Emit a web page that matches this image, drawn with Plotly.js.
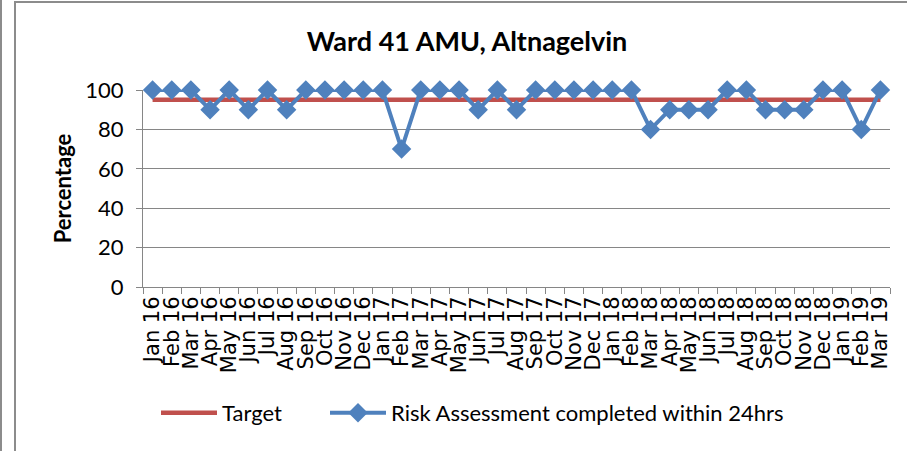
<!DOCTYPE html>
<html>
<head>
<meta charset="utf-8">
<script src="https://cdn.plot.ly/plotly-3.0.1.min.js"></script>
<style>
html,body{margin:0;padding:0;background:#fff;}
#wrap{position:relative;width:907px;height:451px;overflow:hidden;}
#chart{position:absolute;left:0;top:0;width:907px;height:451px;}
#b1{position:absolute;left:0;top:0;width:2px;height:451px;background:#8c8c8c;}
#b2{position:absolute;left:14px;top:1px;width:893px;height:451px;border-left:2px solid #8c8c8c;border-top:2px solid #8c8c8c;box-sizing:border-box;}
</style>
</head>
<body>
<div id="wrap">
<div id="chart"></div>
<div id="b1"></div>
<div id="b2"></div>
</div>
<script>
const months = ["Jan 16","Feb 16","Mar 16","Apr 16","May 16","Jun 16","Jul 16","Aug 16","Sep 16","Oct 16","Nov 16","Dec 16",
"Jan 17","Feb 17","Mar 17","Apr 17","May 17","Jun 17","Jul 17","Aug 17","Sep 17","Oct 17","Nov 17","Dec 17",
"Jan 18","Feb 18","Mar 18","Apr 18","May 18","Jun 18","Jul 18","Aug 18","Sep 18","Oct 18","Nov 18","Dec 18",
"Jan 19","Feb 19","Mar 19"];
const riskAssessment = [100,100,100,90,100,90,100,90,100,100,100,100,
100,70,100,100,100,90,100,90,100,100,100,100,
100,100,80,90,90,90,100,100,90,90,90,100,
100,80,100];
const targetValues = months.map(() => 95);
const yTicks = [0,20,40,60,80,100];

const traces = [
  {x: months, y: targetValues, name: "Target", type: "scatter", mode: "lines", legend: "legend",
   line: {color: "#c0504d", width: 4.5}, cliponaxis: false},
  {x: months, y: riskAssessment, name: "Risk Assessment completed within 24hrs", type: "scatter", mode: "lines+markers",
   legend: "legend2",
   line: {color: "#4f81bd", width: 4}, marker: {symbol: "diamond", size: 15, color: "#4f81bd"}, cliponaxis: false}
];

const calib = "Lato, 'Open Sans', sans-serif";
const legendBase = {orientation: "h", xref: "container", yref: "container", y: 1 - 413/451, xanchor: "left", yanchor: "middle",
           font: {family: calib, size: 22, color: "#000"}, itemwidth: 56, bgcolor: "rgba(0,0,0,0)"};
const layout = {
  width: 907, height: 451,
  margin: {l: 143, r: 17, t: 90, b: 164},
  paper_bgcolor: "#ffffff", plot_bgcolor: "#ffffff",
  showlegend: true,
  title: {text: "<b>Ward 41 AMU, Altnagelvin</b>", x: 467/907, xref: "container", xanchor: "center",
          y: 1 - 42/451, yref: "container", yanchor: "middle",
          font: {family: calib, size: 27, color: "#000"}},
  xaxis: {type: "category", range: [-0.5, months.length - 0.5], tickmode: "array", tickvals: months, ticktext: months,
          tickangle: -90, tickson: "boundaries", ticks: "outside", ticklen: 6, tickcolor: "#868686",
          showline: true, linecolor: "#868686", linewidth: 1, showgrid: false, zeroline: false,
          tickfont: {family: "'DejaVu Sans', sans-serif", size: 21, color: "#000"}, automargin: false},
  yaxis: {range: [0, 100], tickvals: yTicks, ticktext: yTicks.map(String), ticks: "outside", ticklen: 6, tickcolor: "#868686",
          showline: true, linecolor: "#868686", linewidth: 1, showgrid: true, gridcolor: "#868686", gridwidth: 1,
          zeroline: false, tickfont: {family: calib, size: 22, color: "#000"}, ticklabelstandoff: 8,
          title: {text: "<b>Percentage</b>", font: {family: calib, size: 22, color: "#000"}, standoff: 7},
          automargin: false},
  legend: Object.assign({}, legendBase, {x: 156/907}),
  legend2: Object.assign({}, legendBase, {x: 325/907})
};

Plotly.newPlot("chart", traces, layout, {displayModeBar: false, staticPlot: true});
</script>
</body>
</html>
